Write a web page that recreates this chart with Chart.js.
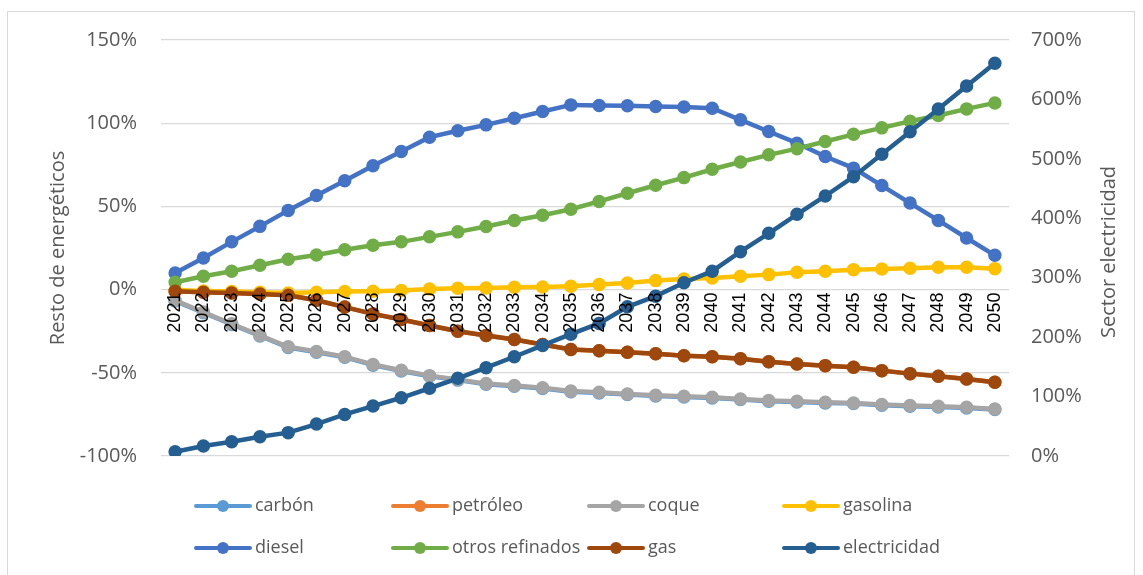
<!DOCTYPE html>
<html>
<head>
<meta charset="utf-8">
<script src="https://cdn.jsdelivr.net/npm/chart.js@4.4.0/dist/chart.umd.min.js"></script>
<style>
  html, body { margin: 0; padding: 0; background: #fff; }
  #wrap { position: relative; width: 1143px; height: 575px; }
  #frame { position: absolute; left: 7px; top: 11px; width: 1128px; height: 570px; border: 1px solid #d9d9d9; box-sizing: border-box; pointer-events: none; }
</style>
</head>
<body>
<div id="wrap">
  <canvas id="c" width="1143" height="575"></canvas>
  <div id="frame"></div>
</div>
<script>
const years = ['2021','2022','2023','2024','2025','2026','2027','2028','2029','2030','2031','2032','2033','2034','2035','2036','2037','2038','2039','2040','2041','2042','2043','2044','2045','2046','2047','2048','2049','2050'];

const leftTicks = [-100, -50, 0, 50, 100, 150];
const rightTicks = [0, 100, 200, 300, 400, 500, 600, 700];

const carbon = [-6.9, -13.9, -20.9, -27.9, -34.8, -37.6, -40.7, -45.4, -48.9, -52.1, -54.4, -56.9, -58.1, -59.4, -61.4, -62.1, -63.1, -63.9, -64.5, -65.1, -66.1, -67.1, -67.5, -68.1, -68.5, -69.5, -70.1, -70.5, -71.1, -72.1];
const petroleo = [-1.0, -1.6, -2.0, -2.6, -3.4, -6.4, -10.5, -14.6, -18.0, -21.6, -25.0, -27.6, -30.0, -33.0, -36.0, -36.7, -37.7, -38.6, -39.7, -40.4, -41.6, -43.3, -44.7, -45.7, -46.7, -48.7, -50.5, -52.1, -53.7, -55.7];
const coque = [-6.5, -13.5, -20.5, -27.5, -34.4, -37.2, -40.3, -45.0, -48.5, -51.7, -54.0, -56.5, -57.7, -59.0, -61.0, -61.7, -62.7, -63.5, -64.1, -64.7, -65.7, -66.7, -67.1, -67.7, -68.1, -69.1, -69.7, -70.1, -70.7, -71.7];
const gasolina = [-0.3, -0.8, -1.2, -1.6, -2.0, -1.6, -1.2, -1.0, -0.6, 0.4, 0.8, 1.0, 1.4, 1.6, 2.0, 3.0, 4.0, 5.4, 6.4, 7.0, 8.0, 9.0, 10.4, 11.0, 12.0, 12.4, 12.8, 13.4, 13.4, 12.6];
const diesel = [10.0, 19.0, 28.7, 38.0, 47.6, 56.5, 65.4, 74.4, 83.0, 91.6, 95.5, 99.0, 103.0, 107.0, 111.0, 110.6, 110.5, 110.0, 109.7, 109.0, 102.0, 95.0, 88.0, 80.0, 73.0, 62.5, 52.0, 41.6, 31.0, 20.6];
const otrosRefinados = [4.4, 8.0, 11.0, 14.6, 18.2, 20.8, 23.9, 26.6, 28.7, 31.7, 34.7, 37.9, 41.5, 44.7, 48.3, 53.0, 57.9, 62.7, 67.3, 72.3, 76.7, 81.0, 84.7, 89.0, 93.3, 97.2, 101.2, 104.6, 108.6, 112.2];
const gas = [-1.0, -1.6, -2.0, -2.6, -3.4, -6.4, -10.5, -14.6, -18.0, -21.6, -25.0, -27.6, -30.0, -33.0, -36.0, -36.7, -37.7, -38.6, -39.7, -40.4, -41.6, -43.3, -44.7, -45.7, -46.7, -48.7, -50.5, -52.1, -53.7, -55.7];
const electricidad = [7.2, 16.8, 24.0, 32.5, 39.3, 53.8, 70.0, 84.0, 98.0, 114.0, 130.7, 148.6, 167.0, 186.0, 205.0, 223.0, 251.0, 269.0, 291.6, 311.0, 343.8, 374.7, 406.7, 437.5, 470.0, 507.6, 545.7, 583.9, 622.6, 660.8];

const seriesNames = ['carbón', 'petróleo', 'coque', 'gasolina', 'diesel', 'otros refinados', 'gas', 'electricidad'];
const seriesColors = ['#5B9BD5', '#ED7D31', '#A5A5A5', '#FFC000', '#4472C4', '#70AD47', '#9E480E', '#255E91'];
const seriesData = [carbon, petroleo, coque, gasolina, diesel, otrosRefinados, gas, electricidad];
const seriesAxis = ['y', 'y', 'y', 'y', 'y', 'y', 'y', 'y2'];

const datasets = seriesNames.map((name, i) => ({
  label: name,
  data: seriesData[i],
  yAxisID: seriesAxis[i],
  borderColor: seriesColors[i],
  backgroundColor: seriesColors[i],
  pointBackgroundColor: seriesColors[i],
  pointBorderColor: seriesColors[i],
  borderWidth: 4.5,
  pointRadius: 6,
  pointBorderWidth: 1.5,
  tension: 0,
  fill: false,
  order: seriesNames.length - i
}));

const uiFont = '"Open Sans", "Noto Sans", sans-serif';

const legendPlugin = {
  id: 'fixedLegend',
  afterDraw(chart) {
    const ctx = chart.ctx;
    const cols = [195, 392, 588, 783];
    const rows = [506, 548];
    ctx.save();
    ctx.font = '18px ' + uiFont;
    ctx.textBaseline = 'middle';
    ctx.textAlign = 'left';
    chart.data.datasets.forEach((ds, i) => {
      const x = cols[i % 4];
      const y = rows[Math.floor(i / 4)];
      ctx.strokeStyle = ds.borderColor;
      ctx.lineWidth = 4;
      ctx.lineCap = 'round';
      ctx.beginPath();
      ctx.moveTo(x + 1, y);
      ctx.lineTo(x + 55, y);
      ctx.stroke();
      ctx.fillStyle = ds.borderColor;
      ctx.beginPath();
      ctx.arc(x + 28, y, 6, 0, Math.PI * 2);
      ctx.fill();
      ctx.fillStyle = '#595959';
      ctx.fillText(ds.label, x + 60, y);
    });
    // right axis title (reads bottom to top)
    const ca = chart.chartArea;
    ctx.save();
    ctx.translate(1109, (ca.top + ca.bottom) / 2 + 4);
    ctx.rotate(-Math.PI / 2);
    ctx.textAlign = 'center';
    ctx.textBaseline = 'middle';
    ctx.font = '20px ' + uiFont;
    ctx.fillStyle = '#595959';
    ctx.fillText('Sector electricidad', 0, 0);
    ctx.restore();
    ctx.restore();
  }
};

new Chart(document.getElementById('c'), {
  type: 'line',
  data: { labels: years, datasets },
  options: {
    responsive: false,
    animation: false,
    devicePixelRatio: 1,
    layout: { padding: { left: 42, right: 0, top: 40, bottom: 119 } },
    plugins: { legend: { display: false }, tooltip: { enabled: false } },
    scales: {
      x: {
        type: 'category',
        offset: true,
        position: { y: 0 },
        grid: { display: false, drawTicks: false },
        border: { display: false },
        ticks: {
          z: 1,
          autoSkip: false,
          minRotation: 90,
          maxRotation: 90,
          padding: 3,
          color: '#000000',
          font: { family: '"Liberation Sans", Arial, sans-serif', size: 18 }
        }
      },
      y: {
        position: 'left',
        min: leftTicks[0],
        max: leftTicks[leftTicks.length - 1],
        afterBuildTicks: (s) => { s.ticks = leftTicks.map(v => ({ value: v })); },
        afterFit: (s) => { s.width = 119; },
        grid: { color: '#d9d9d9', lineWidth: 1.3, drawTicks: false },
        border: { display: false },
        ticks: {
          padding: 24,
          color: '#595959',
          font: { family: uiFont, size: 20 },
          callback: (v) => v + '%'
        },
        title: {
          display: true,
          text: 'Resto de energéticos',
          color: '#595959',
          font: { family: uiFont, size: 20 }
        }
      },
      y2: {
        position: 'right',
        min: rightTicks[0],
        max: rightTicks[rightTicks.length - 1],
        afterBuildTicks: (s) => { s.ticks = rightTicks.map(v => ({ value: v })); },
        afterFit: (s) => { s.width = 134; },
        grid: { display: false, drawTicks: false },
        border: { display: false },
        ticks: {
          padding: 22,
          color: '#595959',
          font: { family: uiFont, size: 20 },
          callback: (v) => v + '%'
        }
      }
    }
  },
  plugins: [legendPlugin]
});
</script>
</body>
</html>
